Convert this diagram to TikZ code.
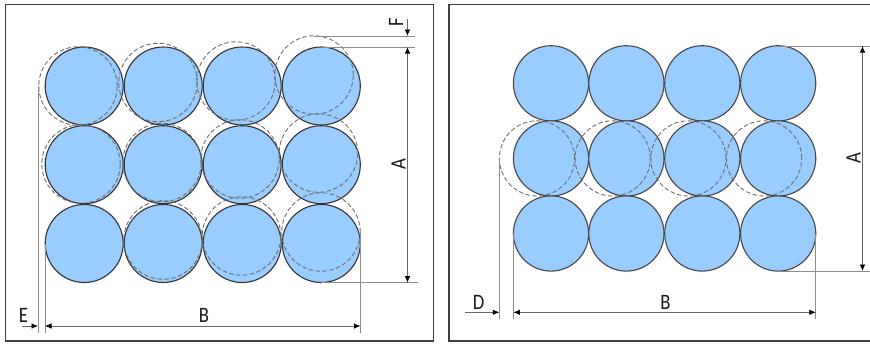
\documentclass[tikz,border=0pt]{standalone}
\usepackage{graphicx}
\usepackage{fontspec}
\setmainfont{Carlito}
\usetikzlibrary{arrows.meta}
\newcommand{\dimtxt}[1]{\scalebox{.85}[1]{\fontsize{22}{22}\selectfont #1}}
\definecolor{ballblue}{HTML}{99CCFF}
\tikzset{
  ballA/.style={circle,draw=black!80,line width=1.1pt,fill=ballblue,inner sep=0pt,minimum size=78pt},
  ballB/.style={circle,draw=black!72,line width=1.1pt,fill=ballblue,inner sep=0pt,minimum size=75.2pt},
  ghostA/.style={circle,draw=black!58,line width=.85pt,dash pattern=on 4.5pt off 2.4pt,inner sep=0pt,minimum size=78.5pt},
  ghostB/.style={circle,draw=black!58,line width=.85pt,dash pattern=on 4.5pt off 2.4pt,inner sep=0pt,minimum size=75.2pt},
  frameline/.style={draw=black!75,line width=1.9pt},
  extline/.style={draw=black!45,line width=1pt},
  dimline/.style={draw=black!60,line width=.8pt},
  dimarrow/.style={dimline,-{Latex[black,length=6.5pt,width=5.5pt]}},
  dimboth/.style={dimline,{Latex[black,length=6.5pt,width=5.5pt]}-{Latex[black,length=6.5pt,width=5.5pt]}},
  dimlabel/.style={inner sep=0pt,text=black!90}
}
\begin{document}
\begin{tikzpicture}[x=1pt,y=-1pt]
\useasboundingbox (0,0) rectangle (870,343);
\fill[white] (0,0) rectangle (870,343);
% frames
\draw[frameline] (5.5,4.5) rectangle (433.5,341);
\draw[frameline] (870,4.5) -- (449,4.5) -- (449,341) -- (870,341);
% left panel: solid balls
\foreach \c/\x in {1/84.2,2/163.2,3/242.2,4/321.3}
  \foreach \r/\y in {1/86,2/164.7,3/243.5}
    \node[ballA] (L\r\c) at (\x,\y) {};
% left panel: displaced balls
\foreach \n/\x/\y in {11/78/86,12/158/82.5,13/236/81,14/314/75,
                      21/81/164,22/162/162.5,23/240/159,24/318.5/153,
                      32/163/240,33/241.5/236,34/321/232}
  \node[ghostA] (LG\n) at (\x,\y) {};
% left panel: dimension coordinates
\coordinate (LGl) at (38,86);
\coordinate (LGlb) at (38,333);
\coordinate (Lsl) at (45,243.5);
\coordinate (Lslb) at (45,333);
\coordinate (Lr) at (360.5,232);
\coordinate (Lrb) at (360.5,333);
\coordinate (Eo) at (22,326);
\coordinate (Ea) at (38,326);
\coordinate (Ba) at (45,326);
\coordinate (Bb) at (360.5,326);
\coordinate (Lt1) at (314,36);
\coordinate (Lt1e) at (415,36);
\coordinate (Lt2) at (321,47);
\coordinate (Lt2e) at (415,47);
\coordinate (Lb) at (321,282.7);
\coordinate (Lbe) at (418,282.7);
\coordinate (Fo) at (407.5,19);
\coordinate (Fa) at (407.5,36);
\coordinate (Aa) at (407.5,47);
\coordinate (Ab) at (407.5,282.7);
\draw[extline] (LGl) -- (LGlb);
\draw[extline] (Lsl) -- (Lslb);
\draw[extline] (Lr) -- (Lrb);
\draw[extline] (Lt1) -- (Lt1e);
\draw[extline] (Lt2) -- (Lt2e);
\draw[extline] (Lb) -- (Lbe);
\draw[dimarrow] (Eo) -- (Ea);
\draw[dimboth] (Ba) -- (Bb);
\draw[dimarrow] (Fo) -- (Fa);
\draw[dimboth] (Aa) -- (Ab);
\node[dimlabel] (labE) at (23.5,315.5) {\dimtxt{E}};
\node[dimlabel] (labBl) at (204,315.5) {\dimtxt{B}};
\node[dimlabel,rotate=90] (labF) at (396,22) {\dimtxt{F}};
\node[dimlabel,rotate=90] (labAl) at (398.5,164.5) {\dimtxt{A}};
% right panel: solid balls
\foreach \c/\x in {1/551,2/626.4,3/702.3,4/778.2}
  \foreach \r/\y in {1/83.3,2/158.4,3/233.5}
    \node[ballB] (R\r\c) at (\x,\y) {};
% right panel: displaced balls
\foreach \n/\x in {1/537,2/612.7,3/688.4,4/764.1}
  \node[ghostB] (RG\n) at (\x,158.4) {};
% right panel: dimension coordinates
\coordinate (RGl) at (499.3,158.4);
\coordinate (RGlb) at (499.3,319);
\coordinate (Rsl) at (513.4,233.5);
\coordinate (Rslb) at (513.4,319);
\coordinate (Rr) at (815.8,233.5);
\coordinate (Rrb) at (815.8,319);
\coordinate (Do) at (465,312.3);
\coordinate (Da) at (499.3,312.3);
\coordinate (RBa) at (513.4,312.3);
\coordinate (RBb) at (815.8,312.3);
\coordinate (Rt) at (778.2,46);
\coordinate (Rte) at (870,46);
\coordinate (Rb) at (778.2,271);
\coordinate (Rbe) at (870,271);
\coordinate (RAa) at (862.5,46);
\coordinate (RAb) at (862.5,271);
\draw[extline] (RGl) -- (RGlb);
\draw[extline] (Rsl) -- (Rslb);
\draw[extline] (Rr) -- (Rrb);
\draw[extline] (Rt) -- (Rte);
\draw[extline] (Rb) -- (Rbe);
\draw[dimarrow] (Do) -- (Da);
\draw[dimboth] (RBa) -- (RBb);
\draw[dimboth] (RAa) -- (RAb);
\node[dimlabel] (labD) at (478.5,302.5) {\dimtxt{D}};
\node[dimlabel] (labBr) at (665.5,302.5) {\dimtxt{B}};
\node[dimlabel,rotate=90] (labAr) at (853.5,158.4) {\dimtxt{A}};
\end{tikzpicture}
\end{document}
